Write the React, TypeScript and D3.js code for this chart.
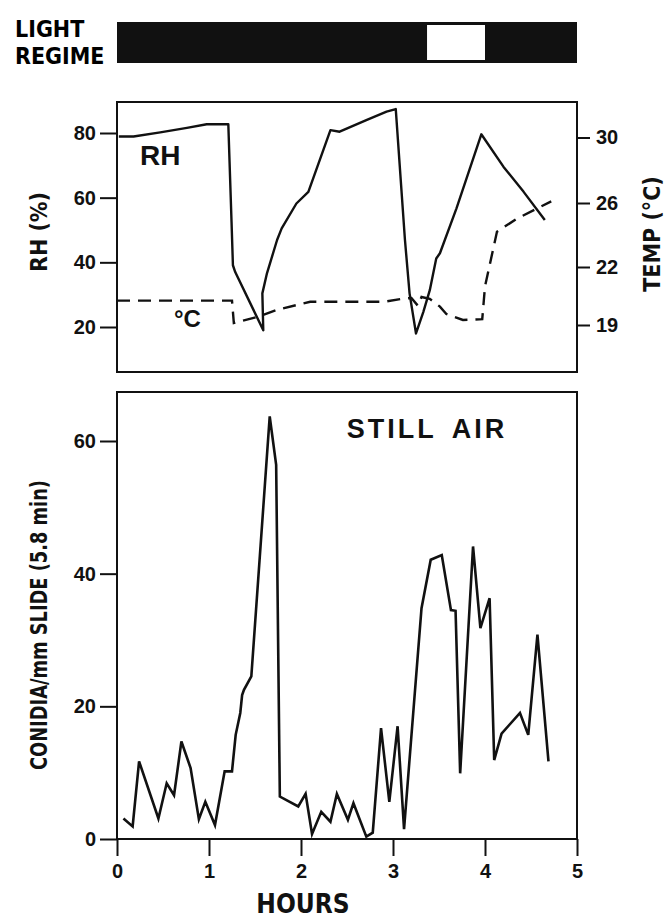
import React, { useEffect, useRef } from "react";
import * as d3 from "d3";

// light regime: dark / light periods (hours)
const lightStart = [0, 3.37, 4.0];
const lightEnd = [3.37, 4.0, 5];
const lightDark = [true, false, true];

// relative humidity (%)
const rhHours = [0.02, 0.18, 0.47, 0.76, 0.975, 1.21, 1.245, 1.26, 1.285, 1.59, 1.58, 1.63, 1.74, 1.79, 1.95, 2.08, 2.32, 2.42, 2.71, 2.93, 3.03, 3.13, 3.18, 3.25, 3.33, 3.4, 3.47, 3.51, 3.69, 3.96, 4.2, 4.42, 4.65];
const rhValues = [78.9, 78.9, 80.2, 81.6, 82.7, 82.7, 52.5, 39.1, 37, 19.0, 30.4, 36.6, 46.9, 50.5, 58.2, 61.8, 80.9, 80.4, 84.0, 86.6, 87.4, 46.9, 30.4, 18.0, 24.7, 31.4, 41.2, 42.8, 56.7, 79.6, 69.6, 61.8, 53.1];

// temperature (°C)
const tempHours = [0, 1.25, 1.27, 1.55, 1.75, 2.1, 2.53, 2.9, 3.11, 3.2, 3.27, 3.31, 3.4, 3.51, 3.58, 3.76, 3.97, 4.0, 4.13, 4.34, 4.72];
const tempValues = [20.26, 20.26, 19.1, 19.45, 19.8, 20.2, 20.2, 20.2, 20.36, 20.4, 20.0, 20.45, 20.35, 19.95, 19.57, 19.26, 19.3, 21.0, 24.2, 25.0, 26.1];

// conidia per mm slide
const conHours = [0.07, 0.17, 0.24, 0.45, 0.54, 0.62, 0.70, 0.80, 0.89, 0.96, 1.065, 1.17, 1.25, 1.29, 1.34, 1.36, 1.38, 1.46, 1.66, 1.73, 1.77, 1.97, 2.05, 2.12, 2.22, 2.32, 2.39, 2.51, 2.57, 2.71, 2.78, 2.87, 2.96, 3.05, 3.12, 3.31, 3.41, 3.53, 3.63, 3.68, 3.73, 3.87, 3.95, 4.05, 4.10, 4.18, 4.38, 4.47, 4.57, 4.69];
const conValues = [3.1, 1.9, 11.7, 3.1, 8.4, 6.6, 14.7, 10.7, 3.0, 5.6, 2.1, 10.2, 10.2, 15.7, 19, 21.7, 22.5, 24.5, 63.7, 56.4, 6.4, 4.9, 6.8, 0.75, 4.1, 2.6, 6.8, 2.9, 5.4, 0.35, 0.95, 16.7, 5.6, 17.0, 1.5, 34.8, 42.1, 42.8, 34.5, 34.4, 9.9, 44.1, 31.8, 36.3, 11.9, 15.9, 19.0, 15.7, 30.8, 11.7];

const hourTicks = [0, 1, 2, 3, 4, 5];
const rhTicks = [20, 40, 60, 80];
const tempTicks = [19, 22, 26, 30];
const conTicks = [0, 20, 40, 60];

const narrow = "'Liberation Sans Narrow', 'DejaVu Sans Condensed', 'Liberation Sans', sans-serif";
const sans = "'Liberation Sans', Arial, sans-serif";

export default function App() {
  const ref = useRef<SVGSVGElement>(null);

  useEffect(() => {
    const svg = d3.select(ref.current);
    svg.selectAll("*").remove();

    const left = 117, right = 577;
    const x = d3.scaleLinear().domain([0, 5]).range([left, right]);

    // ---- light regime bar
    svg.append("text").attr("x", 15).attr("y", 37).text("LIGHT")
      .attr("font-family", narrow).attr("font-weight", "bold").attr("font-size", 23);
    svg.append("text").attr("x", 15).attr("y", 64).text("REGIME")
      .attr("font-family", narrow).attr("font-weight", "bold").attr("font-size", 23);

    const light = lightStart.map((s, i) => ({ s, e: lightEnd[i], dark: lightDark[i] }));
    svg.append("rect").attr("x", x(0)).attr("y", 22).attr("width", x(5) - x(0)).attr("height", 41).attr("fill", "#111");
    svg.selectAll("rect.light").data(light.filter(d => !d.dark)).enter()
      .append("rect").attr("class", "light")
      .attr("x", d => x(d.s)).attr("y", 25)
      .attr("width", d => x(d.e) - x(d.s)).attr("height", 35)
      .attr("fill", "white");

    // ---- top panel (RH and temperature)
    const t1 = 102, b1 = 372;
    const rhY = d3.scaleLinear().domain([20, 80]).range([327, 133]);
    const tY = d3.scaleLinear().domain([19, 22, 26, 30]).range([325, 267, 203, 137.5]);

    svg.append("rect").attr("x", left).attr("y", t1).attr("width", right - left).attr("height", b1 - t1)
      .attr("fill", "none").attr("stroke", "#111").attr("stroke-width", 2);

    const ax1 = svg.append("g").attr("transform", `translate(${left},0)`)
      .call(d3.axisLeft(rhY).tickValues(rhTicks).tickSize(17).tickPadding(4));
    const ax2 = svg.append("g").attr("transform", `translate(${right},0)`)
      .call(d3.axisRight(tY).tickValues(tempTicks).tickSize(13).tickPadding(6));
    [ax1, ax2].forEach(a => {
      a.select(".domain").remove();
      a.selectAll("line").attr("stroke", "#111").attr("stroke-width", 2);
      a.selectAll("text").attr("font-family", sans).attr("font-weight", "bold").attr("font-size", 20).attr("fill", "#111");
    });

    const rhData = rhHours.map((h, i) => [h, rhValues[i]] as [number, number]);
    const tData = tempHours.map((h, i) => [h, tempValues[i]] as [number, number]);
    svg.append("path").attr("d", d3.line().x(d => x(d[0])).y(d => rhY(d[1]))(rhData))
      .attr("fill", "none").attr("stroke", "#111").attr("stroke-width", 2.4).attr("stroke-linejoin", "round");
    svg.append("path").attr("d", d3.line().x(d => x(d[0])).y(d => tY(d[1]))(tData))
      .attr("fill", "none").attr("stroke", "#111").attr("stroke-width", 2.4).attr("stroke-dasharray", "13,8");

    svg.append("text").attr("x", 140).attr("y", 165).text("RH")
      .attr("font-family", sans).attr("font-weight", "bold").attr("font-size", 28).attr("fill", "#111");
    svg.append("text").attr("x", 174).attr("y", 327).text("°C")
      .attr("font-family", sans).attr("font-weight", "bold").attr("font-size", 24).attr("fill", "#111");

    svg.append("text").attr("transform", "translate(47,232) rotate(-90)").attr("text-anchor", "middle")
      .text("RH (%)").attr("font-family", narrow).attr("font-weight", "bold").attr("font-size", 23).attr("fill", "#111");
    svg.append("text").attr("transform", "translate(660,234) rotate(-90)").attr("text-anchor", "middle")
      .text("TEMP (°C)").attr("font-family", narrow).attr("font-weight", "bold").attr("font-size", 23).attr("fill", "#111");

    // ---- bottom panel (conidia)
    const t2 = 392, b2 = 839;
    const cY = d3.scaleLinear().domain([0, 60]).range([b2, 441]);

    svg.append("rect").attr("x", left).attr("y", t2).attr("width", right - left).attr("height", b2 - t2)
      .attr("fill", "none").attr("stroke", "#111").attr("stroke-width", 2);

    const ax3 = svg.append("g").attr("transform", `translate(${left},0)`)
      .call(d3.axisLeft(cY).tickValues(conTicks).tickSize(17).tickPadding(4));
    const ax4 = svg.append("g").attr("transform", `translate(0,${b2})`)
      .call(d3.axisBottom(x).tickValues(hourTicks).tickSize(17).tickPadding(8).tickFormat(d3.format("d")));
    [ax3, ax4].forEach(a => {
      a.select(".domain").remove();
      a.selectAll("line").attr("stroke", "#111").attr("stroke-width", 2);
      a.selectAll("text").attr("font-family", sans).attr("font-weight", "bold").attr("font-size", 20).attr("fill", "#111");
    });

    const cData = conHours.map((h, i) => [h, conValues[i]] as [number, number]);
    svg.append("path").attr("d", d3.line().x(d => x(d[0])).y(d => cY(d[1]))(cData))
      .attr("fill", "none").attr("stroke", "#111").attr("stroke-width", 2.6).attr("stroke-linejoin", "miter");

    svg.append("text").attr("x", 427).attr("y", 438).attr("text-anchor", "middle").text("STILL AIR")
      .attr("font-family", sans).attr("font-weight", "bold").attr("font-size", 27)
      .attr("letter-spacing", 3).attr("word-spacing", 6).attr("fill", "#111");

    svg.append("text").attr("transform", "translate(47,625) rotate(-90)").attr("text-anchor", "middle")
      .attr("textLength", 290).attr("lengthAdjust", "spacingAndGlyphs")
      .text("CONIDIA/mm SLIDE (5.8 min)").attr("font-family", narrow).attr("font-weight", "bold").attr("font-size", 23).attr("fill", "#111");

    svg.append("text").attr("x", 303).attr("y", 913).attr("text-anchor", "middle").text("HOURS")
      .attr("font-family", narrow).attr("font-weight", "bold").attr("font-size", 26).attr("fill", "#111");
  }, []);

  return (
    <svg ref={ref} width={667} height={924}
      style={{ position: "absolute", left: 0, top: 0, background: "white" }} />
  );
}
